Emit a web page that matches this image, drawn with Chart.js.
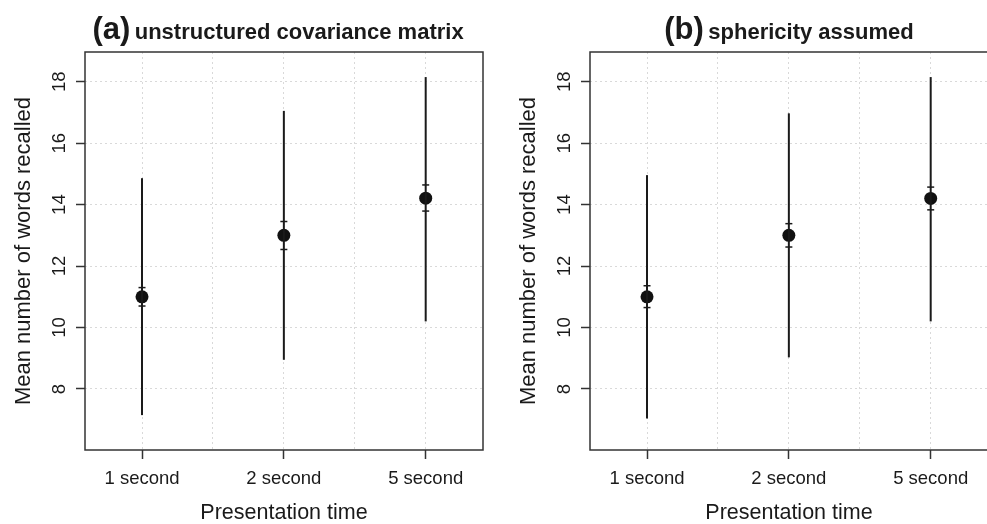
<!DOCTYPE html>
<html>
<head>
<meta charset="utf-8">
<script src="https://cdn.jsdelivr.net/npm/chart.js@4.4.0/dist/chart.umd.min.js"></script>
<style>
  body { margin: 0; width: 987px; height: 524px; overflow: hidden; background: #fff; position: relative; }
  canvas { position: absolute; top: 0; }
  .ttl { position: absolute; top: 13px; width: 400px; text-align: center; white-space: nowrap;
         font-family: 'Liberation Sans', Arial, sans-serif; font-weight: bold; color: #1a1a1a; line-height: 1; }
  .ttl .big { font-size: 31px; }
  .ttl .small { font-size: 22px; }
</style>
</head>
<body>
<canvas id="chartA" width="494" height="524" style="left:0px"></canvas>
<canvas id="chartB" width="494" height="524" style="left:505px"></canvas>
<div class="ttl" style="left:78px"><span class="big">(a)</span> <span class="small">unstructured covariance matrix</span></div>
<div class="ttl" style="left:589px"><span class="big">(b)</span> <span class="small">sphericity assumed</span></div>
<script>
// categories on the x axis (placed at 1, 2, 3)
var categories = ['1 second', '2 second', '5 second'];
var catPos = [1, 2, 3];
var yTicks = [8, 10, 12, 14, 16, 18];

// (a) unstructured covariance matrix
var meansA = [11.0, 13.0, 14.21];
var lowerA = [7.15, 8.95, 10.2];
var upperA = [14.86, 17.05, 18.15];
var innerLowA = [10.7, 12.54, 13.79];
var innerHighA = [11.3, 13.45, 14.64];

// (b) sphericity assumed
var meansB = [11.0, 13.0, 14.2];
var lowerB = [7.04, 9.03, 10.2];
var upperB = [14.96, 16.97, 18.15];
var innerLowB = [10.65, 12.62, 13.83];
var innerHighB = [11.36, 13.38, 14.57];

var fontFamily = "'Liberation Sans', Arial, Helvetica, sans-serif";
var ink = '#1a1a1a';

var boxPlugin = {
    id: 'box',
    afterDraw: function(chart) {
        var a = chart.chartArea;
        var ctx = chart.ctx;
        ctx.save();
        ctx.strokeStyle = '#333';
        ctx.lineWidth = 1.5;
        ctx.strokeRect(a.left, a.top, a.right - a.left, a.bottom - a.top);
        ctx.restore();
    }
};

function buildDatasets(means, lower, upper, innerLow, innerHigh) {
    var datasets = [];
    for (let i = 0; i < categories.length; i++) {
        datasets.push({
            data: [{x: catPos[i], y: lower[i]}, {x: catPos[i], y: upper[i]}],
            showLine: true,
            borderColor: ink,
            borderWidth: 2,
            pointRadius: 0
        });
        datasets.push({
            data: [{x: catPos[i], y: innerLow[i]}, {x: catPos[i], y: innerHigh[i]}],
            showLine: false,
            pointStyle: 'line',
            pointRadius: 3.5,
            borderColor: ink,
            borderWidth: 1.5
        });
    }
    datasets.push({
        data: means.map((m, i) => ({x: catPos[i], y: m})),
        showLine: false,
        pointStyle: 'circle',
        pointRadius: 6.5,
        backgroundColor: '#111',
        borderWidth: 0
    });
    return datasets;
}

function makeChart(id, means, lower, upper, innerLow, innerHigh) {
    const ctx = document.getElementById(id);
    return new Chart(ctx, {
        type: 'scatter',
        data: { datasets: buildDatasets(means, lower, upper, innerLow, innerHigh) },
        options: {
            responsive: false,
            animation: false,
            events: [],
            layout: { padding: { top: 52, right: 11, bottom: 0, left: 0 } },
            plugins: { legend: { display: false }, tooltip: { enabled: false } },
            scales: {
                x: {
                    type: 'linear',
                    position: 'bottom',
                    min: 0.598,
                    max: 3.404,
                    afterBuildTicks: function(scale) {
                        scale.ticks = [1, 1.5, 2, 2.5, 3].map(v => ({value: v}));
                    },
                    afterFit: function(scale) { scale.height = 74; },
                    ticks: {
                        autoSkip: false,
                        maxRotation: 0,
                        padding: 9,
                        color: ink,
                        font: { family: fontFamily, size: 18.5 },
                        callback: function(v) {
                            var k = catPos.indexOf(v);
                            return k >= 0 ? categories[k] : '';
                        }
                    },
                    grid: {
                        color: '#d9d9d9',
                        lineWidth: 1,
                        tickLength: 9,
                        tickWidth: 1.5,
                        tickBorderDash: [],
                        tickColor: function(c) {
                            return catPos.indexOf(c.tick.value) >= 0 ? '#333' : 'rgba(0,0,0,0)';
                        }
                    },
                    border: { display: false, dash: [2, 3] },
                    title: {
                        display: true,
                        text: 'Presentation time',
                        color: ink,
                        padding: { top: 0, bottom: 0 },
                        font: { family: fontFamily, size: 21.5, lineHeight: 1 }
                    }
                },
                y: {
                    type: 'linear',
                    position: 'left',
                    min: 6.015,
                    max: 18.966,
                    afterBuildTicks: function(scale) {
                        scale.ticks = yTicks.map(v => ({value: v}));
                    },
                    afterFit: function(scale) { scale.width = 85; },
                    ticks: {
                        minRotation: 90,
                        maxRotation: 90,
                        crossAlign: 'center',
                        padding: 6,
                        color: ink,
                        font: { family: fontFamily, size: 18.5 }
                    },
                    grid: {
                        color: '#d9d9d9',
                        lineWidth: 1,
                        tickLength: 9,
                        tickWidth: 1.5,
                        tickBorderDash: [],
                        tickColor: '#333'
                    },
                    border: { display: false, dash: [2, 3] },
                    title: {
                        display: true,
                        text: 'Mean number of words recalled',
                        color: ink,
                        padding: { top: 11, bottom: 0 },
                        font: { family: fontFamily, size: 22 }
                    }
                }
            }
        },
        plugins: [boxPlugin]
    });
}

makeChart('chartA', meansA, lowerA, upperA, innerLowA, innerHighA);
makeChart('chartB', meansB, lowerB, upperB, innerLowB, innerHighB);
</script>
</body>
</html>
